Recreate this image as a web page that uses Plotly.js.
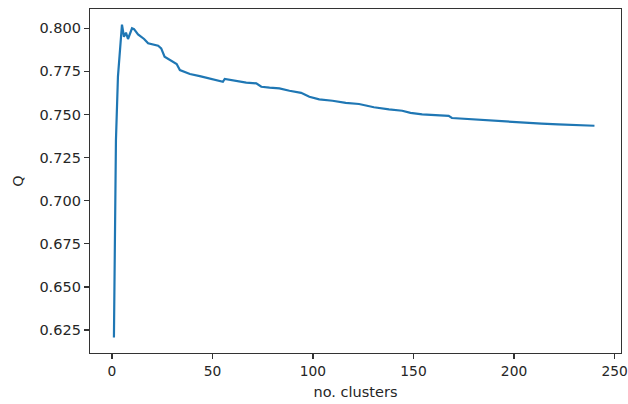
<!DOCTYPE html>
<html>
<head>
<meta charset="utf-8">
<script src="https://cdn.plot.ly/plotly-3.0.1.min.js"></script>
<style>html,body{margin:0;padding:0;background:#fff;}#chart{width:628px;height:404px;}</style>
</head>
<body>
<div id="chart"></div>
<script>
// number of clusters
const clusters = [1, 2, 3, 4, 5, 6, 7, 8, 9, 10, 11, 13, 16, 18, 23, 24.5, 26.2, 29, 32.2, 33.8, 38.8, 43.7, 48.7, 55.2, 56.1, 61.9, 66.8, 71.8, 74.3, 78.4, 83.3, 88.3, 94.1, 98.2, 103.1, 109.7, 116.3, 122.9, 130.3, 137.8, 144.4, 148.5, 154.3, 160.9, 167.5, 169.1, 179, 187.3, 195.5, 203.8, 206.2, 213.7, 221.9, 228.5, 240];
// modularity Q
const qValues = [0.6207, 0.735, 0.772, 0.787, 0.8021, 0.7951, 0.7975, 0.7938, 0.7965, 0.8, 0.7995, 0.7965, 0.7938, 0.7913, 0.7899, 0.7884, 0.7835, 0.7816, 0.7793, 0.7758, 0.7735, 0.7723, 0.771, 0.769, 0.7706, 0.7696, 0.7685, 0.7681, 0.7661, 0.7656, 0.7652, 0.7638, 0.7626, 0.7603, 0.7588, 0.758, 0.7568, 0.7561, 0.7542, 0.753, 0.7522, 0.751, 0.7501, 0.7497, 0.7492, 0.748, 0.7472, 0.7464, 0.7461, 0.7455, 0.7449, 0.7447, 0.7443, 0.7439, 0.7435];
const xTicks = [0, 50, 100, 150, 200, 250];
const yTicks = [0.625, 0.650, 0.675, 0.700, 0.725, 0.750, 0.775, 0.800];
const yTickLabels = ['0.625', '0.650', '0.675', '0.700', '0.725', '0.750', '0.775', '0.800'];

const font = {family: 'DejaVu Sans', size: 14.5, color: '#262626'};
const xFont = {family: 'DejaVu Sans', size: 13.8, color: '#262626'};
const axisCommon = {
  showgrid: false, zeroline: false, showline: true, mirror: true,
  linecolor: '#333', linewidth: 1.2,
  ticks: 'outside', ticklen: 5, tickwidth: 1.2, tickcolor: '#333',
  ticklabeloverflow: 'allow'
};
Plotly.newPlot('chart', [{
  x: clusters, y: qValues, type: 'scatter', mode: 'lines',
  line: {color: '#1f77b4', width: 2.2}
}], {
  width: 628, height: 404,
  margin: {l: 90, r: 7, t: 9, b: 51},
  paper_bgcolor: '#fff', plot_bgcolor: '#fff',
  showlegend: false,
  font: font,
  xaxis: Object.assign({}, axisCommon, {
    range: [-10.9, 253.2], tickvals: xTicks, tickfont: xFont,
    title: {text: 'no. clusters', font: font, standoff: 9}
  }),
  yaxis: Object.assign({}, axisCommon, {
    range: [0.6117, 0.8112], tickvals: yTicks, ticktext: yTickLabels, tickfont: font,
    title: {text: 'Q', font: font, standoff: 12}
  })
}, {staticPlot: true});
</script>
</body>
</html>
